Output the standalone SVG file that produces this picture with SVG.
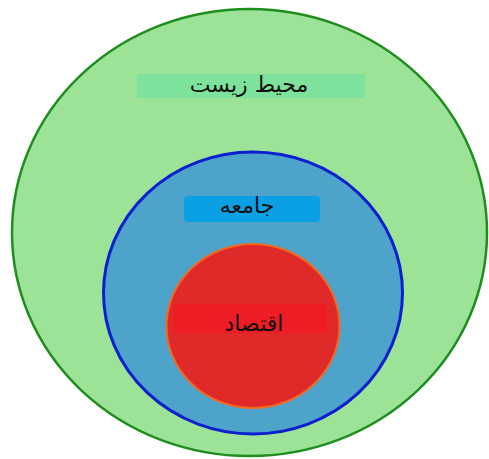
<svg xmlns="http://www.w3.org/2000/svg" width="489" height="459" viewBox="0 0 489 459">
<style>
.lbl{font-family:"DejaVu Sans","Noto Sans",sans-serif;font-size:22px;fill:#111;text-anchor:middle;direction:rtl}
</style>
<rect width="489" height="459" fill="#ffffff"/>
<g id="environment">
<ellipse cx="249.5" cy="232.5" rx="237.5" ry="223.5" fill="#9ce398" stroke="#1e8e1e" stroke-width="2.5"/>
<rect x="137" y="74" width="228" height="24" fill="#7de39c"/>
<text class="lbl" x="249" y="92">محیط زیست</text>
</g>
<g id="society">
<ellipse cx="253" cy="293" rx="149.5" ry="141" fill="#4ea3cb" stroke="#0b1fcf" stroke-width="3"/>
<rect x="184" y="196" width="136" height="26" rx="4" fill="#0ba0e4"/>
<text class="lbl" x="247" y="213">جامعه</text>
</g>
<g id="economy">
<ellipse cx="253" cy="326" rx="86.5" ry="82" fill="#e02a2a" stroke="#f36a1f" stroke-width="2"/>
<rect x="173" y="304" width="154" height="29" fill="#ee1c25"/>
<text class="lbl" x="254" y="331">اقتصاد</text>
</g>
<g id="connectors"/>
</svg>
